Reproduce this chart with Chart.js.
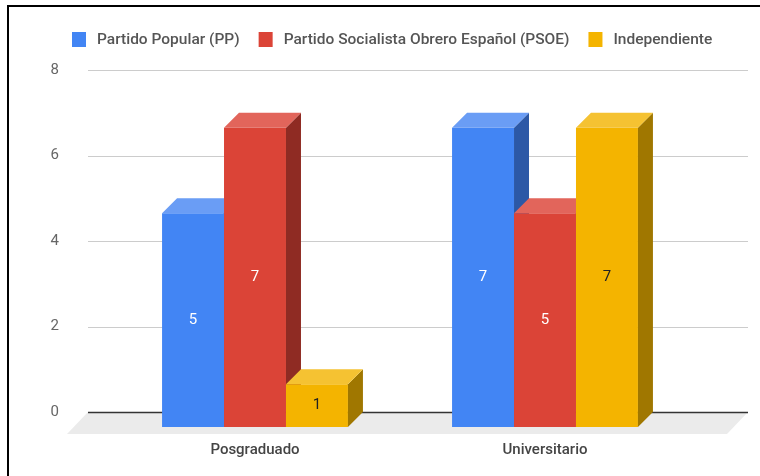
<!DOCTYPE html>
<html>
<head>
<meta charset="utf-8">
<script src="https://cdn.jsdelivr.net/npm/chart.js@4"></script>
<style>
  html, body { margin: 0; padding: 0; background: #fff; }
  #wrap { width: 760px; height: 476px; }
</style>
</head>
<body>
<div id="wrap"><canvas id="barChart" width="760" height="476"></canvas></div>
<script>
const categories = ['Posgraduado', 'Universitario'];
const seriesNames = ['Partido Popular (PP)', 'Partido Socialista Obrero Español (PSOE)', 'Independiente'];
const ppValues = [5, 7];
const psoeValues = [7, 5];
const indepValues = [1, 7];
const yTicks = [0, 2, 4, 6, 8];

// front / top / side / label colours for each series
const faceColors = [
    { front: '#4285f4', top: '#6a9df5', side: '#2c58a6', text: '#ffffff' },
    { front: '#db4437', top: '#e2655b', side: '#8f2b23', text: '#ffffff' },
    { front: '#f4b400', top: '#f5c232', side: '#a07700', text: '#222222' },
];
const DEPTH = 15;

const threeD = {
    id: 'threeD',
    beforeDraw(chart) {
        const ctx = chart.ctx;
        const y = chart.scales.y;
        ctx.save();
        // frame
        ctx.strokeStyle = '#000';
        ctx.lineWidth = 2;
        ctx.beginPath();
        ctx.moveTo(8, 476);
        ctx.lineTo(8, 6);
        ctx.lineTo(760, 6);
        ctx.stroke();
        // floor
        const y0 = y.getPixelForValue(0);
        ctx.fillStyle = '#ebebeb';
        ctx.beginPath();
        ctx.moveTo(88, y0);
        ctx.lineTo(748, y0);
        ctx.lineTo(727, y0 + 22);
        ctx.lineTo(67, y0 + 22);
        ctx.closePath();
        ctx.fill();
        // grid lines on the back wall
        yTicks.forEach(v => {
            const py = Math.round(y.getPixelForValue(v)) + 0.5;
            ctx.strokeStyle = v === 0 ? '#333333' : '#cccccc';
            ctx.lineWidth = v === 0 ? 1.5 : 1;
            ctx.beginPath();
            ctx.moveTo(88, py);
            ctx.lineTo(748, py);
            ctx.stroke();
        });
        ctx.restore();
    },
    beforeDatasetsDraw(chart) {
        // draw series left to right so later bars hide earlier side faces
        const ctx = chart.ctx;
        ctx.save();
        ctx.translate(0, DEPTH);
        chart.data.datasets.forEach((ds, di) => {
            const c = faceColors[di];
            chart.getDatasetMeta(di).data.forEach((bar, i) => {
                const l = bar.x - bar.width / 2;
                const r = bar.x + bar.width / 2;
                const t = bar.y;
                const b = bar.base;
                bar.draw(ctx);
                ctx.fillStyle = c.side;
                ctx.beginPath();
                ctx.moveTo(r, t);
                ctx.lineTo(r + DEPTH, t - DEPTH);
                ctx.lineTo(r + DEPTH, b - DEPTH);
                ctx.lineTo(r, b);
                ctx.closePath();
                ctx.fill();
                ctx.fillStyle = c.top;
                ctx.beginPath();
                ctx.moveTo(l, t);
                ctx.lineTo(l + DEPTH, t - DEPTH);
                ctx.lineTo(r + DEPTH, t - DEPTH);
                ctx.lineTo(r, t);
                ctx.closePath();
                ctx.fill();
                ctx.fillStyle = c.text;
                ctx.font = '15px Roboto';
                ctx.textAlign = 'center';
                ctx.textBaseline = 'middle';
                ctx.fillText(String(ds.data[i]), bar.x, (t + b) / 2);
            });
        });
        ctx.restore();
        return false;
    },
    afterDraw(chart) {
        // legend
        const ctx = chart.ctx;
        ctx.save();
        ctx.font = '500 15.5px Roboto';
        ctx.textBaseline = 'middle';
        ctx.textAlign = 'left';
        let x = 72;
        chart.data.datasets.forEach((ds, i) => {
            ctx.fillStyle = faceColors[i].front;
            ctx.fillRect(x, 32, 14, 15);
            x += 25;
            ctx.fillStyle = '#555555';
            ctx.fillText(ds.label, x, 40);
            x += ctx.measureText(ds.label).width + 19;
        });
        ctx.restore();
    }
};

const ctx = document.getElementById('barChart').getContext('2d');
const barChart = new Chart(ctx, {
    type: 'bar',
    data: {
        labels: categories,
        datasets: [
            { label: seriesNames[0], data: ppValues, backgroundColor: faceColors[0].front },
            { label: seriesNames[1], data: psoeValues, backgroundColor: faceColors[1].front },
            { label: seriesNames[2], data: indepValues, backgroundColor: faceColors[2].front },
        ],
    },
    options: {
        responsive: false,
        animation: false,
        events: [],
        layout: { padding: { top: 70, right: 70, left: 0, bottom: 0 } },
        datasets: {
            bar: { categoryPercentage: 0.641, barPercentage: 1, borderWidth: 0, clip: false },
        },
        plugins: {
            legend: { display: false },
            tooltip: { enabled: false },
        },
        scales: {
            x: {
                grid: { display: false, drawTicks: false },
                border: { display: false },
                ticks: { padding: 29, color: '#444444', font: { family: 'Roboto', size: 15, weight: '500' } },
                afterFit: s => { s.height = 64; },
            },
            y: {
                min: 0,
                max: 8,
                grid: { display: false, drawTicks: false },
                border: { display: false },
                ticks: { stepSize: 2, padding: 51, color: '#666666', font: { family: 'Roboto', size: 15 } },
                afterFit: s => { s.width = 110; },
            },
        },
    },
    plugins: [threeD],
});
</script>
</body>
</html>
